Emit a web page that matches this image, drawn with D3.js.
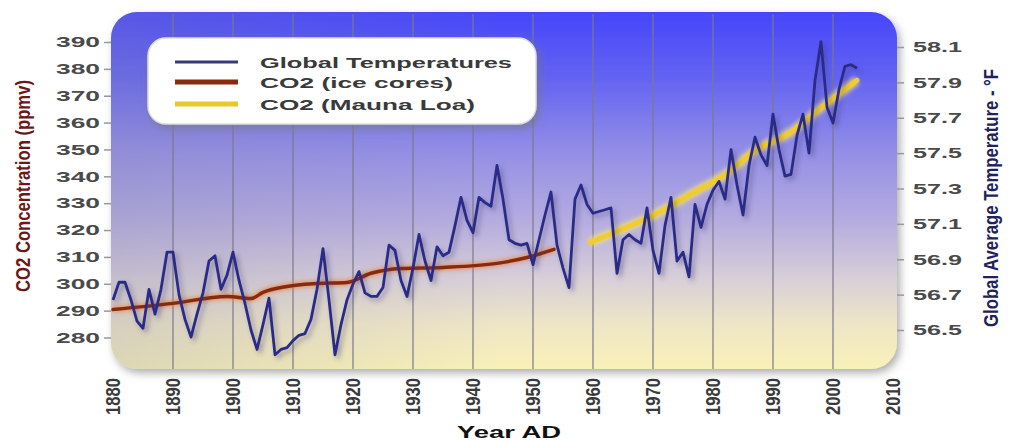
<!DOCTYPE html>
<html><head><meta charset="utf-8">
<script src="https://cdn.jsdelivr.net/npm/d3@7"></script>
<style>html,body{margin:0;padding:0;background:#fff;}svg{display:block;font-family:"Liberation Sans",Arial,sans-serif;}</style>
</head><body><svg id="c" width="1010" height="441"></svg>
<script>
// ---- data ----
const tempYears = d3.range(1880, 2005);
const tempValues = [
56.67,56.77,56.77,56.67,56.55,56.51,56.73,56.59,56.73,56.94,
56.94,56.70,56.56,56.46,56.59,56.71,56.89,56.92,56.73,56.81,
56.94,56.78,56.65,56.50,56.39,56.53,56.68,56.36,56.39,56.40,
56.44,56.47,56.48,56.56,56.73,56.96,56.67,56.36,56.53,56.67,
56.76,56.83,56.71,56.69,56.69,56.74,56.98,56.95,56.78,56.69,
56.85,57.04,56.89,56.78,56.97,56.92,56.94,57.09,57.25,57.12,
57.05,57.25,57.22,57.20,57.43,57.24,57.01,56.99,56.98,56.99,
56.87,57.01,57.15,57.28,56.98,56.85,56.74,57.24,57.32,57.21,
57.16,57.17,57.18,57.19,56.82,57.01,57.04,57.01,56.99,57.19,
56.95,56.82,57.09,57.25,56.89,56.94,56.80,57.21,57.08,57.21,
57.29,57.34,57.24,57.52,57.32,57.15,57.43,57.59,57.49,57.43,
57.72,57.52,57.37,57.38,57.60,57.72,57.50,57.91,58.13,57.76,
57.67,57.86,57.99,58.00,57.98];
const iceYears = [1880,1890,1899,1903,1905,1909,1914,1919,1923,1928,1935,1944,1949,1953.5];
const iceValues = [290.4,292.7,295.3,294.5,296.8,299.0,300.1,300.5,303.9,305.7,306.1,307.6,309.8,312.8];
const mlYears = [1959.5,1965,1970.5,1976,1982,1987,1993,1998,2004];
const mlValues = [315.4,320.5,326.0,333.0,340.6,349.5,356.5,365.5,375.8];
const co2Ticks = [280,290,300,310,320,330,340,350,360,370,380,390];
const tempTicks = [56.5,56.7,56.9,57.1,57.3,57.5,57.7,57.9,58.1];
const yearTicks = [1880,1890,1900,1910,1920,1930,1940,1950,1960,1970,1980,1990,2000,2010];
const legendLabels = ["Global Temperatures","CO2 (ice cores)","CO2 (Mauna Loa)"];

// ---- layout ----
const svg = d3.select("#c");
const panel = {x0:111, x1:897, y0:12, y1:369};
const x = d3.scaleLinear().domain([1880,2010]).range([113,893]);
const yC = d3.scaleLinear().domain([280,390]).range([337.5,42]);
const yT = d3.scaleLinear().domain([56.5,58.1]).range([330,47]);

const defs = svg.append("defs");
const g = defs.append("linearGradient").attr("id","bg").attr("x1",0).attr("y1",0).attr("x2",0).attr("y2",1);
[[0,"#4646fb"],[0.18,"#6262f2"],[0.4,"#9590e6"],[0.58,"#b4abe0"],[0.75,"#d8cfd8"],[0.88,"#efe6c6"],[1,"#f9f1b8"]]
  .forEach(s=>g.append("stop").attr("offset",s[0]).attr("stop-color",s[1]));
const gh = defs.append("linearGradient").attr("id","bgh").attr("x1",0).attr("y1",0).attr("x2",1).attr("y2",0);
gh.append("stop").attr("offset",0).attr("stop-color","#8a8aa8").attr("stop-opacity",0.25);
gh.append("stop").attr("offset",0.5).attr("stop-color","#8a8aa8").attr("stop-opacity",0);
const f1 = defs.append("filter").attr("id","sh").attr("x","-10%").attr("y","-10%").attr("width","120%").attr("height","130%");
f1.append("feDropShadow").attr("dx",3).attr("dy",4).attr("stdDeviation",4).attr("flood-color","#777").attr("flood-opacity",0.6);
const f2 = defs.append("filter").attr("id","lsh").attr("x","-5%").attr("y","-10%").attr("width","110%").attr("height","130%");
f2.append("feDropShadow").attr("dx",3).attr("dy",3).attr("stdDeviation",2.5).attr("flood-color","#3a3a70").attr("flood-opacity",0.45);
const f3 = defs.append("filter").attr("id","glow").attr("x","-10%").attr("y","-50%").attr("width","120%").attr("height","200%");
f3.append("feGaussianBlur").attr("stdDeviation",2);

// panel
svg.append("rect").attr("x",panel.x0).attr("y",panel.y0).attr("width",panel.x1-panel.x0).attr("height",panel.y1-panel.y0)
  .attr("rx",26).attr("fill","url(#bg)").attr("filter","url(#sh)");
svg.append("rect").attr("x",panel.x0).attr("y",panel.y0).attr("width",panel.x1-panel.x0).attr("height",panel.y1-panel.y0)
  .attr("rx",26).attr("fill","url(#bgh)");

// gridlines
svg.append("g").selectAll("line").data(yearTicks.filter(d=>d>1880&&d<2010)).join("line")
  .attr("x1",d=>x(d)).attr("x2",d=>x(d)).attr("y1",panel.y0+2).attr("y2",panel.y1)
  .attr("stroke","#7a7a8a").attr("stroke-opacity",0.75).attr("stroke-width",1.6);

// left axis
const la = svg.append("g").attr("transform",`translate(${panel.x0},0)`)
  .call(d3.axisLeft(yC).tickValues(co2Ticks).tickSize(7).tickPadding(4));
la.select(".domain").remove();
la.selectAll("line").attr("stroke","#999").attr("stroke-width",1.5);
la.selectAll("text").attr("font-size",15).attr("font-weight","bold").attr("fill","#4a4a4a")
  .attr("x",-11).attr("textLength",44).attr("lengthAdjust","spacingAndGlyphs");

// right axis
const ra = svg.append("g").attr("transform",`translate(${panel.x1},0)`)
  .call(d3.axisRight(yT).tickValues(tempTicks).tickSize(7).tickPadding(4).tickFormat(d3.format(".1f")));
ra.select(".domain").remove();
ra.selectAll("line").attr("stroke","#999").attr("stroke-width",1.5);
ra.selectAll("text").attr("font-size",15).attr("font-weight","bold").attr("fill","#4a4a4a")
  .attr("x",16).attr("textLength",49).attr("lengthAdjust","spacingAndGlyphs");

// bottom axis
const ba = svg.append("g").attr("transform",`translate(0,${panel.y1})`)
  .call(d3.axisBottom(x).tickValues(yearTicks).tickSize(0).tickFormat(d3.format("d")));
ba.select(".domain").remove();
ba.selectAll("text").attr("font-size",14).attr("font-weight","bold").attr("fill","#3a3a3a")
  .attr("y",0).attr("dy",null)
  .attr("text-anchor","end").attr("dominant-baseline","central")
  .attr("textLength",37).attr("lengthAdjust","spacingAndGlyphs")
  .attr("transform","translate(0,9) rotate(-90) scale(1,1.45)");

// lines
const lineT = d3.line().x((d,i)=>x(tempYears[i])).y(d=>yT(d));
const lineIce = d3.line().curve(d3.curveMonotoneX).x((d,i)=>x(iceYears[i])).y(d=>yC(d));
const lineML = d3.line().curve(d3.curveMonotoneX).x((d,i)=>x(mlYears[i])).y(d=>yC(d));

svg.append("path").datum(iceValues).attr("d",lineIce).attr("fill","none").attr("stroke","#e8803a")
  .attr("stroke-width",6).attr("stroke-opacity",0.7).attr("filter","url(#glow)");
svg.append("path").datum(iceValues).attr("d",lineIce).attr("fill","none").attr("stroke","#8a2a0c")
  .attr("stroke-width",3.5).attr("stroke-linecap","round");
svg.append("path").datum(mlValues).attr("d",lineML).attr("fill","none").attr("stroke","#f2e070")
  .attr("stroke-width",9).attr("stroke-opacity",0.8).attr("filter","url(#glow)");
svg.append("path").datum(mlValues).attr("d",lineML).attr("fill","none").attr("stroke","#f0cc2c")
  .attr("stroke-width",5).attr("stroke-linecap","round");
svg.append("path").datum(tempValues).attr("d",lineT).attr("fill","none").attr("stroke","#2c2c88")
  .attr("stroke-width",2.8).attr("stroke-linejoin","round").attr("filter","url(#lsh)");

// legend
const lg = svg.append("g");
lg.append("rect").attr("x",148).attr("y",38).attr("width",388).attr("height",86).attr("rx",18)
  .attr("fill","#fff").attr("stroke","#ddd").attr("stroke-width",1.5).attr("filter","url(#sh)");
const legendStyles = [
  {c:"#3a3a7a",w:3,glow:null},
  {c:"#8a2a0c",w:5,glow:"#e8803a"},
  {c:"#e8c82c",w:5,glow:"#f4e48a"}];
const legendY = [62,82,104];
const legendLen = [252,193,215];
legendLabels.forEach((t,i)=>{
  const s = legendStyles[i];
  if (s.glow) lg.append("line").attr("x1",175).attr("x2",238).attr("y1",legendY[i]).attr("y2",legendY[i])
    .attr("stroke",s.glow).attr("stroke-width",s.w+3).attr("filter","url(#glow)");
  lg.append("line").attr("x1",175).attr("x2",238).attr("y1",legendY[i]).attr("y2",legendY[i])
    .attr("stroke",s.c).attr("stroke-width",s.w);
  lg.append("text").attr("x",260).attr("y",legendY[i]+5.5).text(t)
    .attr("font-size",15).attr("font-weight","bold").attr("fill","#3a3a3a")
    .attr("textLength",legendLen[i]).attr("lengthAdjust","spacingAndGlyphs");
});

// axis titles
svg.append("text").attr("transform","translate(23,186) rotate(-90) scale(1,1.3)")
  .attr("text-anchor","middle").attr("dominant-baseline","central")
  .attr("font-size",15).attr("font-weight","bold").attr("fill","#6a1818")
  .attr("textLength",212).attr("lengthAdjust","spacingAndGlyphs")
  .text("CO2 Concentration (ppmv)");
svg.append("text").attr("transform","translate(991,198) rotate(-90) scale(1,1.3)")
  .attr("text-anchor","middle").attr("dominant-baseline","central")
  .attr("font-size",15).attr("font-weight","bold").attr("fill","#22225a")
  .attr("textLength",258).attr("lengthAdjust","spacingAndGlyphs")
  .text("Global Average Temperature - °F");
svg.append("text").attr("x",509).attr("y",438).attr("text-anchor","middle")
  .attr("font-size",17).attr("font-weight","bold").attr("fill","#111")
  .attr("textLength",104).attr("lengthAdjust","spacingAndGlyphs")
  .text("Year AD");
</script></body></html>
